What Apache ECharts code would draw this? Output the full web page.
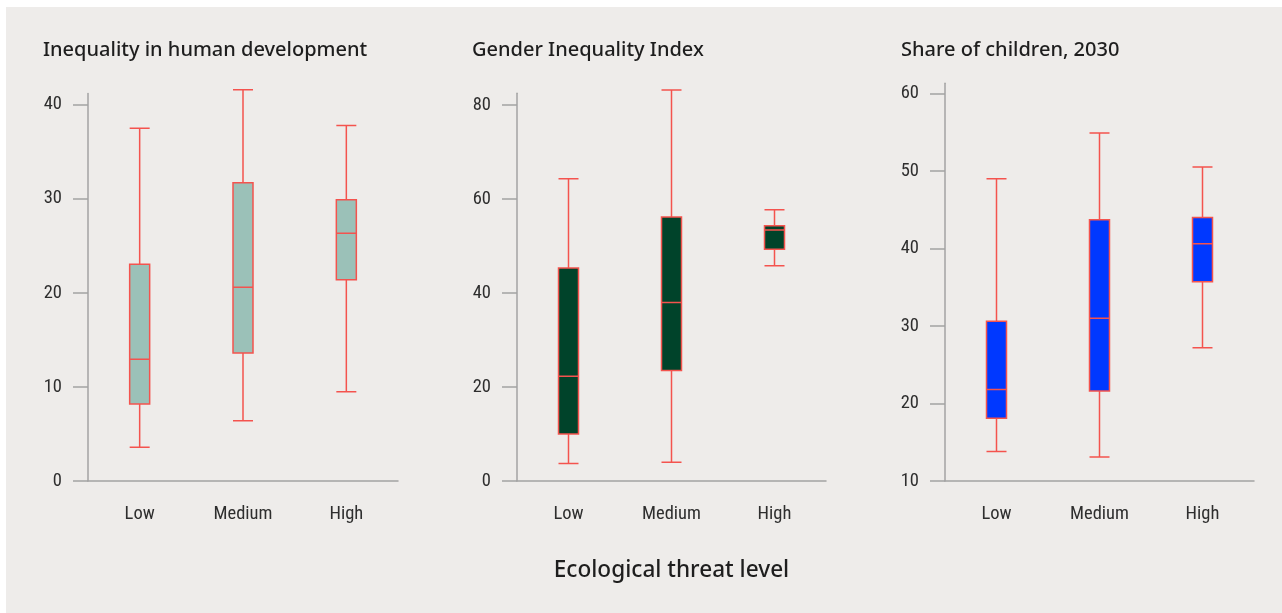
<!DOCTYPE html>
<html>
<head>
<meta charset="utf-8">
<script src="https://cdn.jsdelivr.net/npm/echarts@6/dist/echarts.min.js"></script>
<style>
html,body{margin:0;padding:0;background:#ffffff;}
#chart{width:1282px;height:613px;}
</style>
</head>
<body>
<div id="chart"></div>
<script>
// Data: [min, Q1, median, Q3, max]
const categories = ['Low', 'Medium', 'High'];
const titles = ['Inequality in human development', 'Gender Inequality Index', 'Share of children, 2030'];
const inequalityHD = [
  [3.6, 8.2, 12.95, 23.05, 37.5],
  [6.4, 13.6, 20.6, 31.7, 41.6],
  [9.5, 21.4, 26.35, 29.9, 37.8]
];
const genderIneq = [
  [3.7, 10.0, 22.3, 45.3, 64.3],
  [4.0, 23.5, 38.0, 56.2, 83.2],
  [45.8, 49.3, 53.4, 54.3, 57.7]
];
const shareChildren = [
  [13.8, 18.1, 21.8, 30.6, 49.0],
  [13.1, 21.6, 31.0, 43.7, 54.9],
  [27.2, 35.7, 40.6, 44.0, 50.5]
];
const yTicks1 = [0, 10, 20, 30, 40];
const yTicks2 = [0, 20, 40, 60, 80];
const yTicks3 = [10, 20, 30, 40, 50, 60];
const xAxisTitle = 'Ecological threat level';

const chart = echarts.init(document.getElementById('chart'), null, {renderer: 'canvas'});

const numFont = "'Roboto Condensed', 'Liberation Sans Narrow', sans-serif";
const titleFont = "'Noto Sans', sans-serif";
const axisGray = '#a3a3a3';
const red = '#f4534e';

const grids = [
  {left: 88, right: 1282 - 398, top: 93.5, bottom: 613 - 481},
  {left: 517, right: 1282 - 826, top: 93.3, bottom: 613 - 481},
  {left: 945, right: 1282 - 1254, top: 83.3, bottom: 613 - 481}
];
const yCfg = [
  {min: 0, max: 41.2, interval: 10, ticks: yTicks1},
  {min: 0, max: 82.5, interval: 20, ticks: yTicks2},
  {min: 10, max: 61.3, interval: 10, ticks: yTicks3}
];
const datasets = [inequalityHD, genderIneq, shareChildren];
const fills = ['#9bc1b8', '#00432a', '#0038ff'];
const titleX = [43, 472, 901];

const option = {
  backgroundColor: '#ffffff',
  animation: false,
  graphic: [
    {type: 'rect', shape: {x: 6, y: 7, width: 1276, height: 606}, style: {fill: '#eeecea'}, z: -10, silent: true},
    ...titles.map((t, i) => ({
      type: 'text', x: titleX[i], y: 50,
      style: {text: t, fill: '#1e1e1e', font: '500 20px ' + titleFont, textVerticalAlign: 'middle', textAlign: 'left'}
    })),
    {type: 'text', x: 671.5, y: 571,
     style: {text: xAxisTitle, fill: '#1e1e1e', font: '500 22.6px ' + titleFont, textVerticalAlign: 'middle', textAlign: 'center'}}
  ],
  grid: grids,
  xAxis: grids.map((g, i) => ({
    type: 'category', gridIndex: i, data: categories,
    axisLine: {show: true, lineStyle: {color: axisGray, width: 1.5}},
    axisTick: {show: false},
    axisLabel: {color: '#2e2e2e', fontSize: 18.5, fontFamily: numFont, margin: 24},
    splitLine: {show: false}
  })),
  yAxis: yCfg.map((c, i) => ({
    type: 'value', gridIndex: i, min: c.min, max: c.max, interval: c.interval,
    axisLine: {show: true, lineStyle: {color: axisGray, width: 1.5}},
    axisTick: {show: true, length: 15, lineStyle: {color: axisGray, width: 1.5}, customValues: c.ticks},
    axisLabel: {color: '#2e2e2e', fontSize: 18.5, fontFamily: numFont, margin: 26, customValues: c.ticks},
    splitLine: {show: false}
  })),
  series: datasets.map((d, i) => ({
    type: 'boxplot', xAxisIndex: i, yAxisIndex: i,
    data: d, boxWidth: [20, 20],
    itemStyle: {color: fills[i], borderColor: red, borderWidth: 1.5},
    emphasis: {disabled: true}
  }))
};
chart.setOption(option);
</script>
</body>
</html>
